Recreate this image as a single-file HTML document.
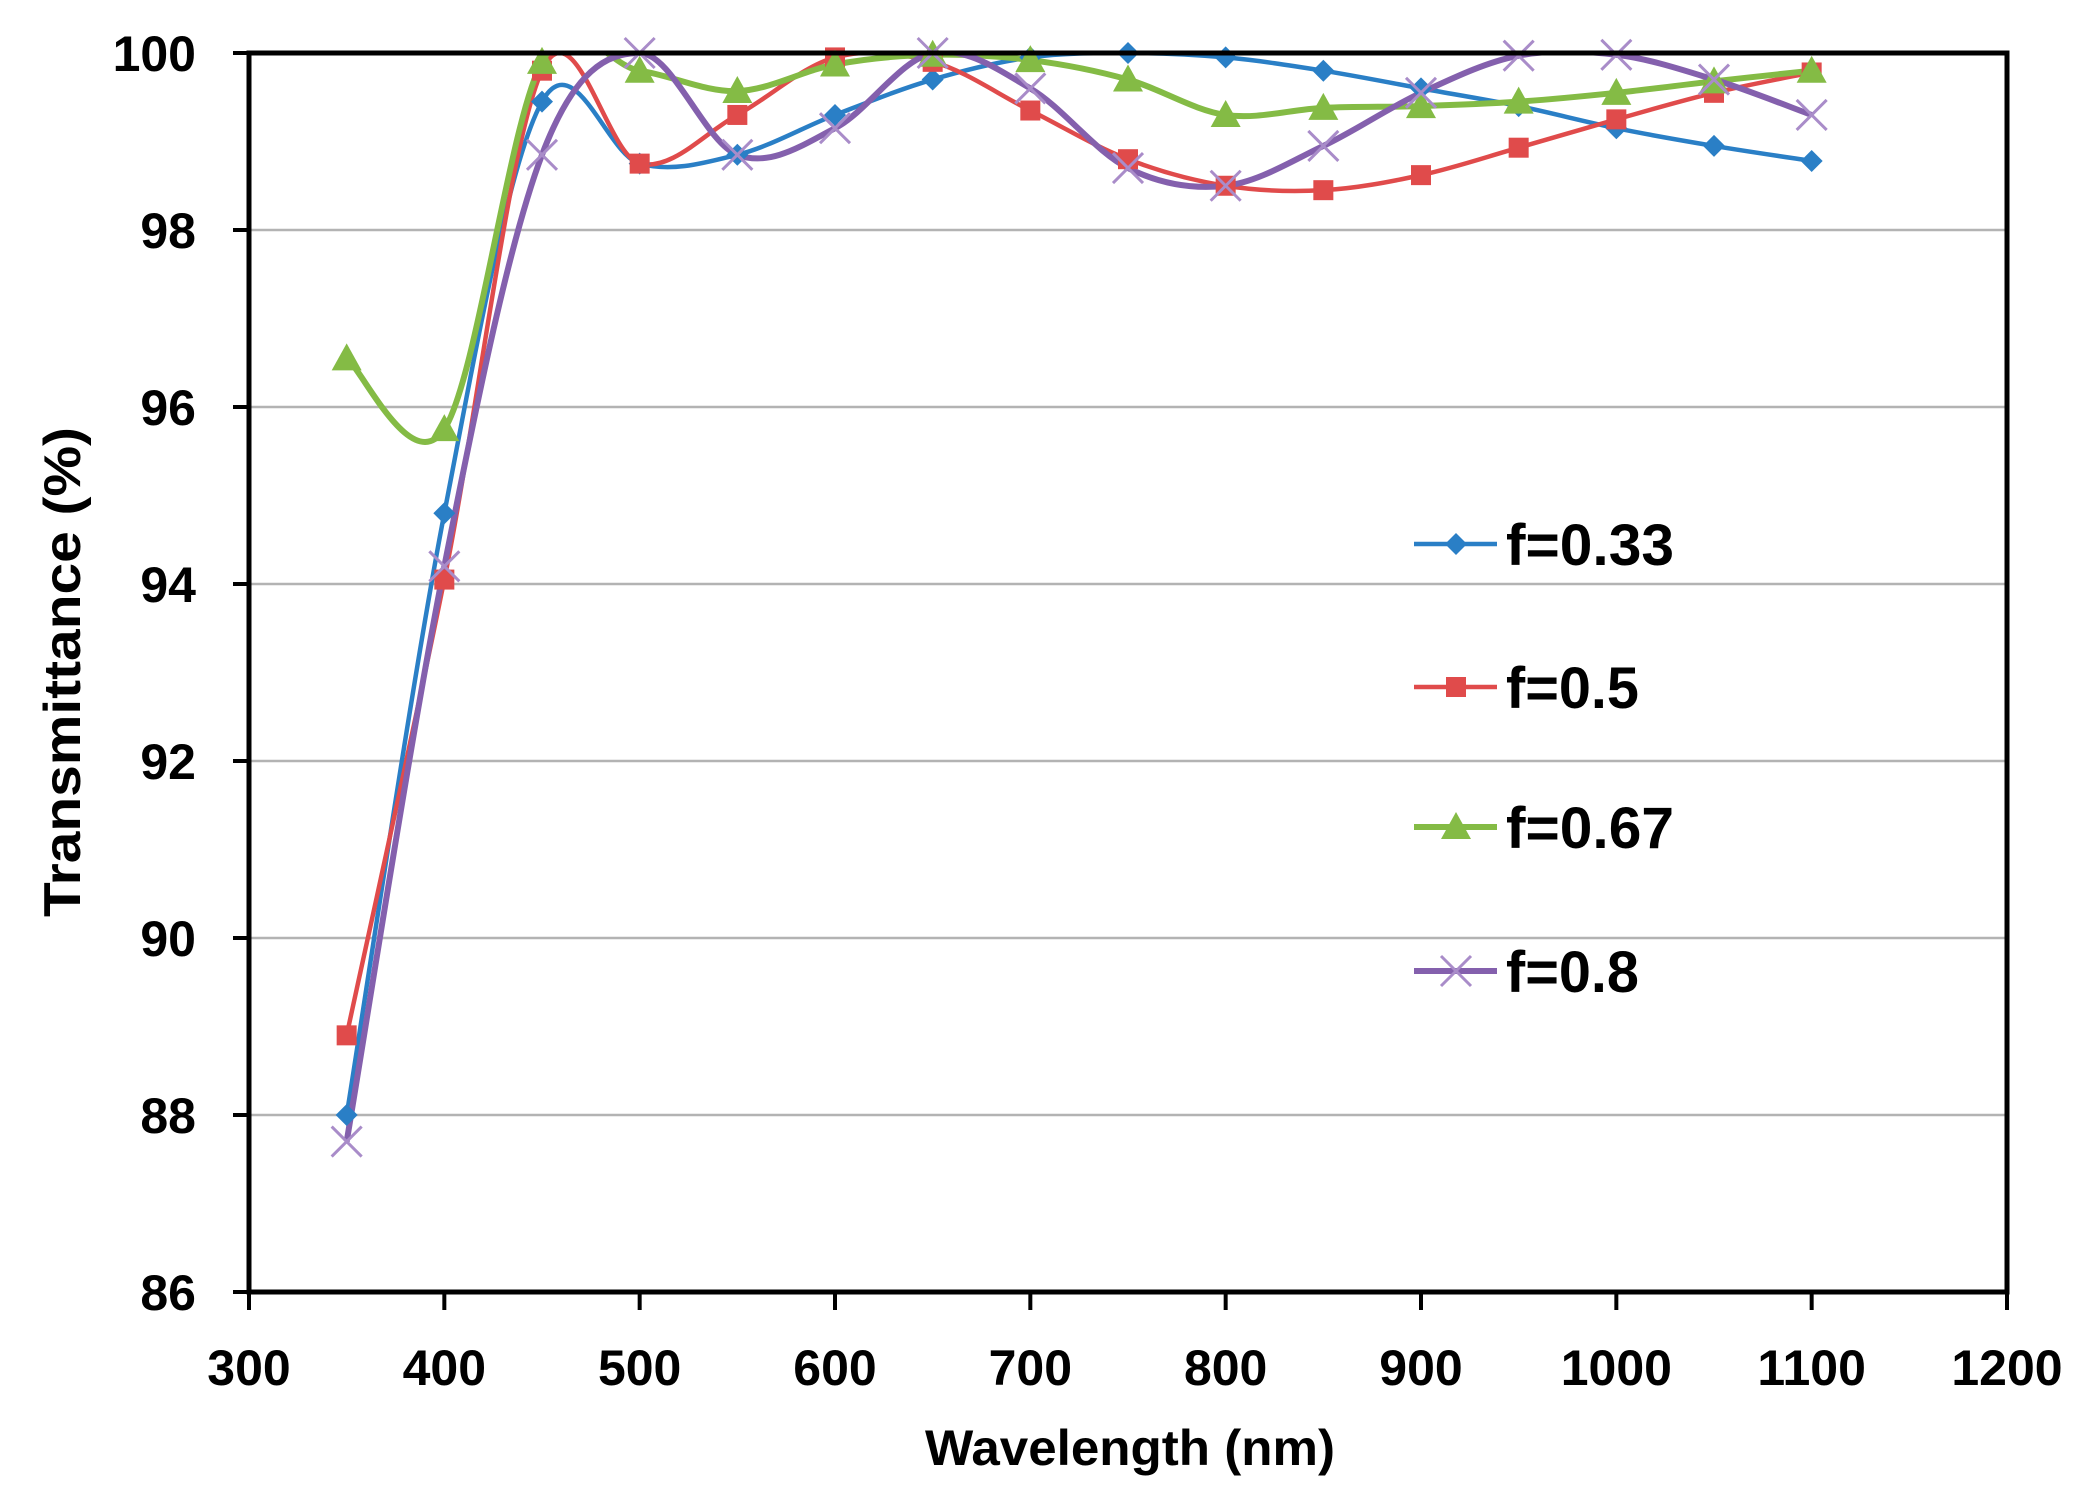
<!DOCTYPE html>
<html><head><meta charset="utf-8"><style>
html,body{margin:0;padding:0;background:#fff;}
svg{display:block;}
text{font-family:"Liberation Sans",sans-serif;font-weight:bold;fill:#000;}
</style></head><body>
<svg id="s" width="2091" height="1500" viewBox="0 0 2091 1500" xmlns="http://www.w3.org/2000/svg">
<defs><clipPath id="c"><rect x="249" y="53" width="1758" height="1239"/></clipPath></defs>
<g id="grid" stroke="#b3b3b3" stroke-width="2.5"></g>
<g id="series" clip-path="url(#c)"></g>
<g id="marks"></g>
<rect x="249" y="53" width="1758" height="1239" fill="none" stroke="#000" stroke-width="5"/>
<g id="ticks" stroke="#000" stroke-width="4"></g>
<g id="labels"></g>
<text x="0" y="0" font-size="52" text-anchor="middle" transform="translate(80,672) rotate(-90)" textLength="490" lengthAdjust="spacingAndGlyphs">Transmittance  (%)</text>
<text x="1130" y="1465" font-size="50" text-anchor="middle" textLength="410" lengthAdjust="spacingAndGlyphs">Wavelength (nm)</text>
<g id="legend"></g>
</svg>
<script>
const NS="http://www.w3.org/2000/svg";
const L=249,R=2007,T=53,B=1292;
const X=v=>L+(v-300)/900*(R-L), Y=v=>T+(100-v)/14*(B-T);
function el(p,tag,a){const e=document.createElementNS(NS,tag);for(const k in a)e.setAttribute(k,a[k]);p.appendChild(e);return e;}
const g=id=>document.getElementById(id);
for(let v=86;v<100;v+=2) el(g('grid'),'line',{x1:L,x2:R,y1:Y(v),y2:Y(v)});
for(let v=86;v<=100;v+=2){el(g('ticks'),'line',{x1:L-16,x2:L,y1:Y(v),y2:Y(v)});
 const t=el(g('labels'),'text',{x:196,y:Y(v)+18,'font-size':50,'text-anchor':'end'});t.textContent=v;}
for(let v=300;v<=1200;v+=100){el(g('ticks'),'line',{x1:X(v),x2:X(v),y1:B,y2:B+18});
 const t=el(g('labels'),'text',{x:X(v),y:1385,'font-size':50,'text-anchor':'middle'});t.textContent=v;}
const xs=[];for(let w=350;w<=1100;w+=50)xs.push(w);
const S=[
 {c:'#2a7fc6',m:'d',d:[88.0,94.8,99.45,98.75,98.85,99.3,99.7,99.95,100,99.95,99.8,99.6,99.4,99.15,98.95,98.78]},
 {c:'#e04b4b',m:'s',d:[88.9,94.05,99.8,98.75,99.3,99.95,99.9,99.35,98.8,98.5,98.45,98.62,98.93,99.25,99.55,99.78]},
 {c:'#84bb45',m:'t',d:[96.55,95.75,99.9,99.8,99.57,99.87,99.98,99.92,99.7,99.3,99.38,99.4,99.45,99.55,99.68,99.8]},
 {c:'#8460ad',m:'x',d:[87.7,94.2,98.85,100,98.85,99.15,100,99.6,98.7,98.5,98.95,99.55,99.97,99.98,99.7,99.3]}];
function path(p){let d=`M${p[0][0]},${p[0][1]}`;const t=1/6;
 for(let i=0;i<p.length-1;i++){const p0=p[Math.max(0,i-1)],p1=p[i],p2=p[i+1],p3=p[Math.min(p.length-1,i+2)];
 d+=` C${p1[0]+(p2[0]-p0[0])*t},${p1[1]+(p2[1]-p0[1])*t} ${p2[0]-(p3[0]-p1[0])*t},${p2[1]-(p3[1]-p1[1])*t} ${p2[0]},${p2[1]}`;}return d;}
function mark(p,m,c,x,y){
 if(m==='d')el(p,'polygon',{points:`${x},${y-11} ${x+11},${y} ${x},${y+11} ${x-11},${y}`,fill:c});
 else if(m==='s')el(p,'rect',{x:x-10,y:y-10,width:20,height:20,fill:c});
 else if(m==='t')el(p,'polygon',{points:`${x},${y-15} ${x+15},${y+12} ${x-15},${y+12}`,fill:c});
 else{el(p,'path',{d:`M${x-15},${y-15}L${x+15},${y+15}M${x+15},${y-15}L${x-15},${y+15}`,stroke:'#a98cc9','stroke-width':3});}
}
S.forEach(s=>{const p=xs.map((w,i)=>[X(w),Y(s.d[i])]);
 el(g('series'),'path',{d:path(p),fill:'none',stroke:s.c,'stroke-width':s.m==='x'||s.m==='t'?6:4.5});
 p.forEach(q=>mark(g('marks'),s.m,s.c,q[0],q[1]));});
const ly=[544,687,827,971],lab=['f=0.33','f=0.5','f=0.67','f=0.8'],lw=[168,133,168,133];
S.forEach((s,i)=>{el(g('legend'),'line',{x1:1414,x2:1497,y1:ly[i],y2:ly[i],stroke:s.c,'stroke-width':s.m==='x'||s.m==='t'?6:4.5});
 mark(g('legend'),s.m,s.c,1456,ly[i]);
 const t=el(g('legend'),'text',{x:1506,y:ly[i]+21,'font-size':58,textLength:lw[i],lengthAdjust:'spacingAndGlyphs'});t.textContent=lab[i];});
</script>
</body></html>
